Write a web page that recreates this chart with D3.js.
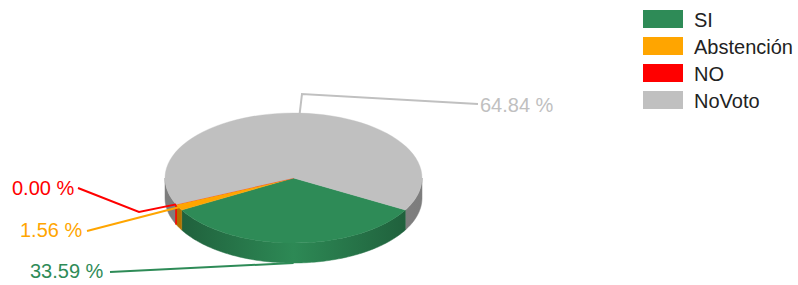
<!DOCTYPE html>
<html>
<head>
<meta charset="utf-8">
<script src="https://cdn.jsdelivr.net/npm/d3@7"></script>
<style>
  body { margin: 0; background: #fff; }
  svg { display: block; font-family: Arial, "Liberation Sans", sans-serif; }
</style>
</head>
<body>
<svg id="chart" width="798" height="285"></svg>
<script>
// data
var categories = ["SI", "Abstención", "NO", "NoVoto"];
var values = [33.59, 1.56, 0.00, 64.84];
var colors = ["#2e8b57", "#ffa500", "#ff0000", "#c0c0c0"];

var W = 798, H = 285;
var cx = 293.5, cy = 178, rx = 128.5, ry = 65, depth = 20;
var startDeg = 119.5;

// label placement (text x, baseline y, optional elbow)
var labelLayout = {
  "SI":         { tx: 30,  ty: 278, lineEnd: [110, 272], elbow: null },
  "Abstención": { tx: 20,  ty: 237, lineEnd: [87, 231],  elbow: null },
  "NO":         { tx: 12,  ty: 195, lineEnd: [78, 188],  elbow: [139, 212] },
  "NoVoto":     { tx: 480, ty: 112, lineEnd: [478, 104], elbow: [302, 94] }
};

var data = categories.map(function(c, i) { return { name: c, value: values[i], color: colors[i] }; });

var svg = d3.select("#chart");
var defs = svg.append("defs");

var pie = d3.pie().sort(null).value(function(d) { return d.value; })
  .startAngle(startDeg * Math.PI / 180)
  .endAngle(startDeg * Math.PI / 180 + 2 * Math.PI);
var arcs = pie(data);

// gradients for side walls
data.forEach(function(d, i) {
  var g = defs.append("linearGradient")
    .attr("id", "side" + i)
    .attr("gradientUnits", "userSpaceOnUse")
    .attr("x1", cx - rx).attr("x2", cx + rx).attr("y1", 0).attr("y2", 0);
  var base = d3.color(d.color);
  g.append("stop").attr("offset", "0%").attr("stop-color", base.darker(1.2));
  g.append("stop").attr("offset", "50%").attr("stop-color", i === 3 ? base.darker(0.9) : base.darker(0.05));
  g.append("stop").attr("offset", "100%").attr("stop-color", base.darker(1.2));
});

function px(a) { return cx + rx * Math.sin(a); }
function py(a) { return cy - ry * Math.cos(a); }

function wallPath(s, e) {
  var p = d3.path();
  var n = Math.max(2, Math.ceil((e - s) / 0.02));
  var i, a;
  p.moveTo(px(s), py(s));
  for (i = 1; i <= n; i++) { a = s + (e - s) * i / n; p.lineTo(px(a), py(a)); }
  for (i = n; i >= 0; i--) { a = s + (e - s) * i / n; p.lineTo(px(a), py(a) + depth); }
  p.closePath();
  return p.toString();
}

// front halves in d3 angle space
var fronts = [[Math.PI / 2, 3 * Math.PI / 2], [5 * Math.PI / 2, 7 * Math.PI / 2]];

var walls = svg.append("g");
var order = [3, 0, 1, 2];
order.forEach(function(i) {
  var a = arcs[i];
  fronts.forEach(function(f) {
    var s = Math.max(a.startAngle, f[0]), e = Math.min(a.endAngle, f[1]);
    if (e < s) return;
    walls.append("path")
      .attr("d", wallPath(s, e))
      .attr("fill", "url(#side" + i + ")")
      .attr("stroke", i === 2 ? a.data.color : "url(#side" + i + ")")
      .attr("stroke-width", i === 2 ? 1.6 : 0.5);
  });
});

// top faces
var arc = d3.arc().innerRadius(0).outerRadius(rx);
svg.append("g")
  .attr("transform", "translate(" + cx + "," + cy + ") scale(1," + (ry / rx) + ")")
  .selectAll("path")
  .data(arcs)
  .enter().append("path")
  .attr("d", arc)
  .attr("fill", function(d) { return d.data.color; })
  .attr("stroke", function(d) { return d.data.color; })
  .attr("stroke-width", 0.5);

// labels with leader lines
var fmt = function(v) { return v.toFixed(2) + " %"; };
var labels = svg.append("g");
arcs.forEach(function(a) {
  var L = labelLayout[a.data.name];
  var mid = (a.startAngle + a.endAngle) / 2;
  var ax = px(mid), ay = py(mid);
  if (-Math.cos(mid) > 0.85) ay += depth;
  var pts = [[ax, ay]];
  if (L.elbow) pts.push(L.elbow);
  pts.push(L.lineEnd);
  labels.append("path")
    .attr("d", d3.line()(pts))
    .attr("fill", "none")
    .attr("stroke", a.data.color)
    .attr("stroke-width", 2);
  labels.append("text")
    .attr("x", L.tx).attr("y", L.ty)
    .attr("fill", a.data.color)
    .style("font-size", "20px")
    .text(fmt(a.data.value));
});

// legend
var legend = svg.append("g").attr("transform", "translate(643,10)");
var item = legend.selectAll("g").data(data).enter().append("g")
  .attr("transform", function(d, i) { return "translate(0," + (i * 27) + ")"; });
item.append("rect")
  .attr("width", 40).attr("height", 18)
  .attr("fill", function(d) { return d.color; });
item.append("text")
  .attr("x", 51).attr("y", 17)
  .attr("fill", "#222")
  .style("font-size", "20px")
  .text(function(d) { return d.name; });
</script>
</body>
</html>
